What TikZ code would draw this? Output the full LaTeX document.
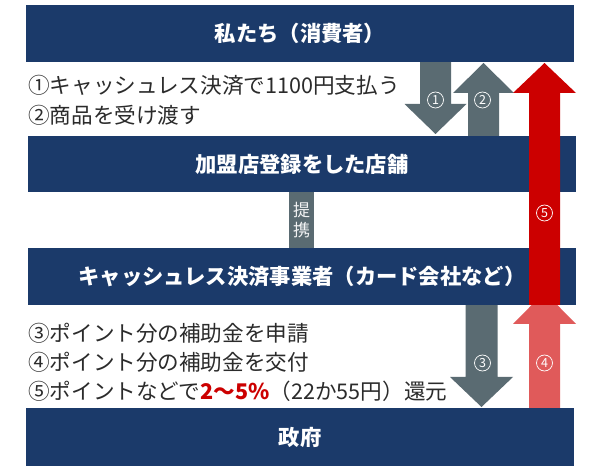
\documentclass[tikz,border=0pt]{standalone}
\usepackage{fontspec}
\setmainfont{Noto Sans CJK JP}
\usetikzlibrary{calc}
\definecolor{navy}{HTML}{1B3A6A}
\definecolor{agray}{HTML}{5A6B72}
\definecolor{ared}{HTML}{CC0000}
\definecolor{lred}{HTML}{E05A5A}
\definecolor{txt}{HTML}{2B2B2B}
% #1 tail, #2 tip, #3 colour, #4 +1 down / -1 up, #5 shaft half, #6 head half, #7 head length
\newcommand{\blkarrow}[7]{%
  \fill[#3] ($(#1)+(-#5,0)$) -- ($(#2)+(-#5,{-#4*#7})$) -- ($(#2)+(-#6,{-#4*#7})$)
    -- (#2) -- ($(#2)+(#6,{-#4*#7})$) -- ($(#2)+(#5,{-#4*#7})$) -- ($(#1)+(#5,0)$) -- cycle;}
\begin{document}
\begin{tikzpicture}[x=1pt,y=-1pt,
  titlebox/.style={fill=navy, text=white, inner sep=0pt, minimum width=548pt,
    font=\fontsize{21.3}{25}\selectfont\bfseries},
  bodytext/.style={anchor=west, inner sep=0pt, text=txt, font=\fontsize{21.6}{25}\selectfont},
  numcirc/.style={circle, draw=white, line width=0.7pt, inner sep=0pt, minimum size=16pt,
    text=white, font=\fontsize{12.5}{12}\selectfont}]
\useasboundingbox (0,0) rectangle (600,470);
\fill[white] (0,0) rectangle (600,470);

% coordinates for arrows
\coordinate (a1t) at (435.5,62);
\coordinate (a1p) at (435.5,134);
\coordinate (a2t) at (483.5,136);
\coordinate (a2p) at (483.5,63);
\coordinate (a3t) at (481.5,305);
\coordinate (a3p) at (481.5,407);
\coordinate (a4t) at (544.5,408);
\coordinate (a4p) at (544.5,292);
\coordinate (a5t) at (544.5,305);
\coordinate (a5p) at (544.5,63);

% lower arrows (under boxes)
\blkarrow{a1t}{a1p}{agray}{1}{15.5}{31}{30}
\blkarrow{a2t}{a2p}{agray}{-1}{15.5}{30.5}{30}
\blkarrow{a3t}{a3p}{agray}{1}{16}{31.5}{30}
\blkarrow{a4t}{a4p}{lred}{-1}{15.5}{31.5}{32}

% boxes
\node[titlebox, minimum height=57pt] (b1) at (300,33.5) {私たち（消費者）};
\node[titlebox, minimum height=56pt] (b2) at (302,164) {加盟店登録をした店舗};
\node[titlebox, minimum height=57pt] (b3) at (302,276.5) {キャッシュレス決済事業者（カード会社など）};
\node[titlebox, minimum height=58pt] (b4) at (300,437) {政府};

% partnership connector
\node[fill=agray, text=white!92!agray, inner sep=0pt, minimum width=25pt, minimum height=56pt,
  align=center, font=\fontsize{17}{20}\selectfont] (tk) at (301.5,220) {提\\携};

% red arrow on top
\blkarrow{a5t}{a5p}{ared}{-1}{15.5}{31.5}{30}

% circled numbers
\node[numcirc] (c1) at (435.5,100) {1};
\node[numcirc] (c2) at (482.5,100) {2};
\node[numcirc] (c5) at (544.5,213) {5};
\node[numcirc] (c3) at (482.5,363) {3};
\node[numcirc] (c4) at (544.5,363) {4};

% texts
\node[bodytext] (t1) at (28,85) {①キャッシュレス決済で1100円支払う};
\node[bodytext] (t2) at (28,115) {②商品を受け渡す};
\node[bodytext] (t3) at (28,333) {③ポイント分の補助金を申請};
\node[bodytext] (t4) at (28,362) {④ポイント分の補助金を交付};
\node[bodytext] (t5) at (28,391) {⑤ポイントなどで\textcolor{ared}{\bfseries 2～5\%}（22か55円）還元};
\end{tikzpicture}
\end{document}
